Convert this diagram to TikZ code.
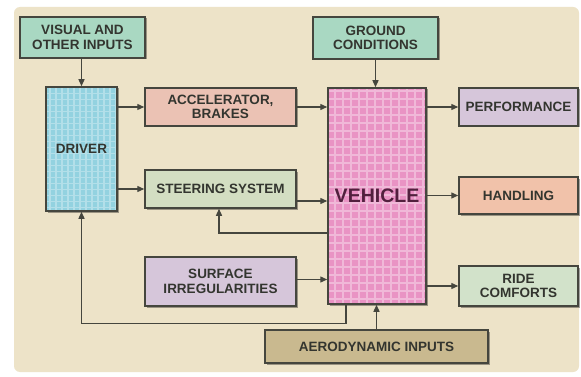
\documentclass[tikz,border=0pt]{standalone}
\usepackage{fontspec}
\setmainfont{Liberation Sans}
\usetikzlibrary{arrows.meta,shadows}
\definecolor{bgpanel}{HTML}{EDE3C8}
\definecolor{edge}{HTML}{45463E}
\definecolor{ink}{HTML}{33352F}
\definecolor{cteal}{HTML}{A9D8C2}
\definecolor{ccyan}{HTML}{93D2E0}
\definecolor{cpinkb}{HTML}{EBC2B4}
\definecolor{cgreen}{HTML}{D3DEC2}
\definecolor{clav}{HTML}{D6C6DA}
\definecolor{cveh}{HTML}{E993C4}
\definecolor{csalmon}{HTML}{F1C2AA}
\definecolor{cride}{HTML}{D2E2CA}
\definecolor{ctan}{HTML}{C9B98F}
\definecolor{vehink}{HTML}{52203E}
\tikzset{
  box/.style={draw=edge, line width=1.5pt, rectangle, align=center, text=ink,
    font=\bfseries\fontsize{13.5}{14.5}\selectfont,
    drop shadow={shadow xshift=1.5pt, shadow yshift=-1.5pt, fill=black, opacity=0.35}},
  arr/.style={draw=edge, line width=1.3pt, -{Triangle[length=7pt,width=6pt]}}
}
\begin{document}
\begin{tikzpicture}[x=1pt,y=-1pt]
\useasboundingbox (0,0) rectangle (581,377);
\fill[white] (0,0) rectangle (581,377);
\fill[bgpanel, rounded corners=6pt] (14,7) rectangle (579,372);

\node[box, fill=cteal, minimum width=125pt, minimum height=41pt] (vis) at (82.5,37.5) {VISUAL AND\\OTHER INPUTS};
\node[box, fill=ccyan, minimum width=71pt, minimum height=124pt,
  path picture={\draw[white, opacity=0.3, line width=1.4pt, step=6pt]
    (path picture bounding box.south west) grid (path picture bounding box.north east);}]
  (drv) at (81.5,149) {DRIVER};
\node[box, fill=cpinkb, minimum width=151pt, minimum height=38pt] (acc) at (220.5,107) {ACCELERATOR,\\BRAKES};
\node[box, fill=cgreen, minimum width=151pt, minimum height=38pt] (ste) at (220.5,189) {STEERING SYSTEM};
\node[box, fill=clav, minimum width=151pt, minimum height=49pt] (sur) at (220.5,281.5) {SURFACE\\IRREGULARITIES};
\node[box, fill=cteal, minimum width=125pt, minimum height=42pt] (gnd) at (375.5,38) {GROUND\\CONDITIONS};
\node[box, fill=cveh, minimum width=98pt, minimum height=216pt, text=vehink,
  font=\bfseries\fontsize{19.5}{20}\selectfont,
  path picture={\draw[white, opacity=0.35, line width=2pt, step=8pt]
    (path picture bounding box.south west) grid (path picture bounding box.north east);}]
  (veh) at (377,196) {VEHICLE};
\node[box, fill=clav, minimum width=119pt, minimum height=38pt] (per) at (518.5,107) {PERFORMANCE};
\node[box, fill=csalmon, minimum width=119pt, minimum height=37pt] (han) at (518.5,195.5) {HANDLING};
\node[box, fill=cride, minimum width=119pt, minimum height=40pt] (rid) at (518.5,286) {RIDE\\COMFORTS};
\node[box, fill=ctan, minimum width=223pt, minimum height=33pt] (aer) at (376.5,346.5) {AERODYNAMIC INPUTS};

\draw[arr] (vis.south -| drv.north) -- (drv.north);
\draw[arr] (drv.east |- acc.west) -- (acc.west);
\draw[arr] (drv.east |- ste.west) -- (ste.west);
\draw[arr] (acc.east) -- (acc.east -| veh.west);
\draw[arr] ([yshift=-12pt]ste.east) -- ([yshift=-12pt]ste.east -| veh.west);
\draw[arr] ([yshift=-37pt]veh.west) -| ([xshift=-1.5pt]ste.south);
\draw[arr] ([yshift=2pt]sur.east) -- ([yshift=2pt]sur.east -| veh.west);
\draw[arr] (gnd.south) -- (gnd.south |- veh.north);
\draw[arr] (veh.east |- per.west) -- (per.west);
\draw[arr] (veh.east |- han.west) -- (han.west);
\draw[arr] (veh.east |- rid.west) -- (rid.west);
\draw[arr] (aer.north) -- (aer.north |- veh.south);
\draw[arr] ([xshift=-31pt]veh.south) -- ++(0,19) -| (drv.south);
\end{tikzpicture}
\end{document}
